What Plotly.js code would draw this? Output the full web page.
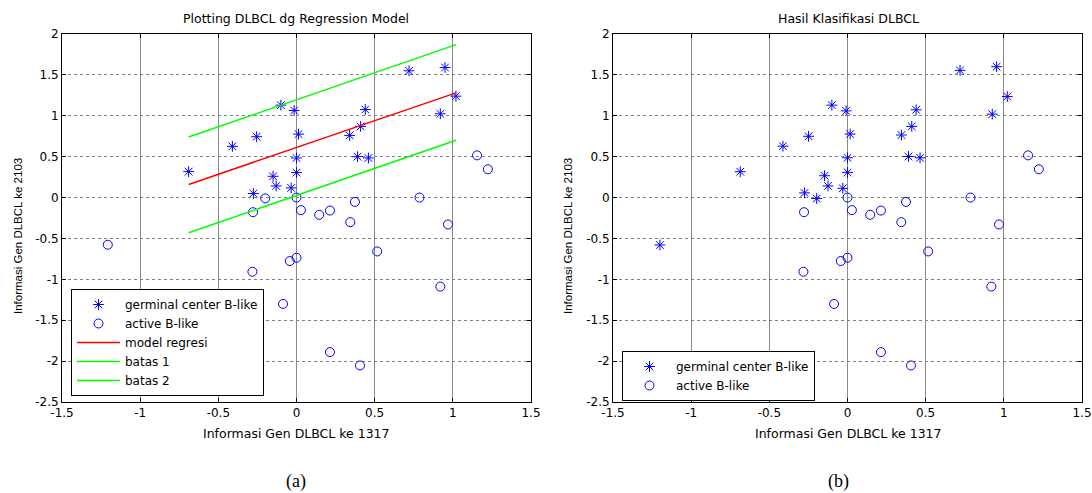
<!DOCTYPE html>
<html>
<head>
<meta charset="utf-8">
<script src="https://cdn.plot.ly/plotly-3.0.1.min.js"></script>
<style>html,body{margin:0;padding:0;background:#fff;}#chart{width:1092px;height:493px;}</style>
</head>
<body>
<div id="chart"></div>
<script>
// ---- Panel (a): actual labels ----
const gcbX_a = [0.72, 0.95, 1.02, -0.10, -0.015, 0.44, 0.92, 0.41, 0.34, 0.013, -0.255, -0.41, -0.69, 0.0, 0.39, 0.46, 0.0, -0.15, -0.13, -0.034, -0.276];
const gcbY_a = [1.55, 1.59, 1.24, 1.13, 1.065, 1.077, 1.024, 0.87, 0.76, 0.776, 0.744, 0.626, 0.317, 0.484, 0.50, 0.484, 0.305, 0.26, 0.142, 0.118, 0.049];
const abcX_a = [-0.20, -0.278, 0.0, 0.028, 0.145, 0.214, 0.374, 0.344, 0.787, 0.969, 1.155, 1.224, -1.207, 0.516, 0.0, -0.043, -0.282, 0.92, -0.086, 0.214, 0.406];
const abcY_a = [-0.01, -0.179, 0.0, -0.154, -0.211, -0.159, -0.053, -0.301, 0.0, -0.329, 0.516, 0.346, -0.577, -0.659, -0.736, -0.776, -0.907, -1.089, -1.301, -1.89, -2.053];

// regression model and bounds (endpoints)
const lineX = [-0.69, 1.02];
const regY = [0.16, 1.28];
const batas1Y = [0.74, 1.87];
const batas2Y = [-0.43, 0.70];

// ---- Panel (b): classification result ----
const gcbX_b = [0.72, 0.954, 1.022, -0.10, -0.009, 0.439, 0.926, 0.411, 0.345, 0.017, -0.249, -0.413, -0.686, 0.0, 0.39, 0.464, 0.0, -0.147, -0.125, -0.03, -0.275, -0.197, -1.2];
const gcbY_b = [1.555, 1.60, 1.235, 1.13, 1.06, 1.073, 1.02, 0.87, 0.765, 0.777, 0.749, 0.628, 0.316, 0.486, 0.502, 0.486, 0.308, 0.267, 0.142, 0.113, 0.057, -0.012, -0.58];
const abcX_b = [0.0, -0.278, 0.028, 0.145, 0.214, 0.374, 0.344, 0.787, 0.969, 1.155, 1.224, 0.516, 0.0, -0.043, -0.282, 0.92, -0.086, 0.214, 0.406];
const abcY_b = [0.0, -0.179, -0.154, -0.211, -0.159, -0.053, -0.301, 0.0, -0.329, 0.516, 0.346, -0.659, -0.736, -0.776, -0.907, -1.089, -1.301, -1.89, -2.053];

const xTicks = [-1.5, -1, -0.5, 0, 0.5, 1, 1.5];
const yTicks = [-2.5, -2, -1.5, -1, -0.5, 0, 0.5, 1, 1.5, 2];

const titleA = 'Plotting DLBCL dg Regression Model';
const titleB = 'Hasil Klasifikasi DLBCL';
const xLabel = 'Informasi Gen DLBCL ke 1317';
const yLabel = 'Informasi Gen DLBCL ke 2103';

const W = 1092, H = 493;
const px = v => v / W;
const py = v => 1 - v / H;

const blue = '#0000ff';
const starM = {symbol: 'asterisk-open', size: 9, color: blue, line: {color: blue, width: 1}};
const circM = {symbol: 'circle-open', size: 9, color: blue, line: {color: blue, width: 1}};

const traces = [
  {x: gcbX_a, y: gcbY_a, type: 'scatter', mode: 'markers', name: 'germinal center B-like', marker: starM, xaxis: 'x', yaxis: 'y', legend: 'legend'},
  {x: abcX_a, y: abcY_a, type: 'scatter', mode: 'markers', name: 'active B-like', marker: circM, xaxis: 'x', yaxis: 'y', legend: 'legend'},
  {x: lineX, y: regY, type: 'scatter', mode: 'lines', name: 'model regresi', line: {color: '#ff0000', width: 1.5}, xaxis: 'x', yaxis: 'y', legend: 'legend'},
  {x: lineX, y: batas1Y, type: 'scatter', mode: 'lines', name: 'batas 1', line: {color: '#00ff00', width: 1.5}, xaxis: 'x', yaxis: 'y', legend: 'legend'},
  {x: lineX, y: batas2Y, type: 'scatter', mode: 'lines', name: 'batas 2', line: {color: '#00ff00', width: 1.5}, xaxis: 'x', yaxis: 'y', legend: 'legend'},
  {x: gcbX_b, y: gcbY_b, type: 'scatter', mode: 'markers', name: 'germinal center B-like', marker: starM, xaxis: 'x2', yaxis: 'y2', legend: 'legend2'},
  {x: abcX_b, y: abcY_b, type: 'scatter', mode: 'markers', name: 'active B-like', marker: circM, xaxis: 'x2', yaxis: 'y2', legend: 'legend2'}
];

const tickFont = {family: 'DejaVu Sans, Verdana, sans-serif', size: 12, color: '#000'};
function xAx(dom, anchor) {
  return {domain: dom, anchor: anchor, range: [-1.5, 1.5], tickvals: xTicks, ticktext: xTicks.map(String),
    ticks: 'inside', ticklen: 4, tickcolor: '#000', showline: true, linecolor: '#000', linewidth: 1, mirror: 'ticks',
    showgrid: true, gridcolor: '#8a8a8a', gridwidth: 1, zeroline: false, tickfont: tickFont, fixedrange: true};
}
function yAx(dom, anchor) {
  return {domain: dom, anchor: anchor, range: [-2.5, 2], tickvals: yTicks, ticktext: yTicks.map(String),
    ticks: 'inside', ticklen: 4, tickcolor: '#000', showline: true, linecolor: '#000', linewidth: 1, mirror: 'ticks',
    showgrid: true, gridcolor: '#808080', gridwidth: 1, griddash: 'dot', zeroline: false, tickfont: tickFont, fixedrange: true};
}

const yDom = [py(402), py(34)];
const legFont = {family: 'DejaVu Sans, Verdana, sans-serif', size: 12, color: '#000'};
const xLabFont = {family: 'DejaVu Sans, Verdana, sans-serif', size: 12.5, color: '#000'};
const yLabFont = {family: 'Liberation Sans, Arial, sans-serif', size: 11.5, color: '#000'};
const titFont = {family: 'DejaVu Sans, Verdana, sans-serif', size: 12.5, color: '#000'};
const capFont = {family: 'Liberation Serif, Times New Roman, serif', size: 18, color: '#000'};

const legBase = {xanchor: 'left', yanchor: 'top', bgcolor: '#fff', bordercolor: '#000', borderwidth: 1, font: legFont, tracegroupgap: 0, itemwidth: 43};

const layout = {
  width: W, height: H,
  margin: {l: 0, r: 0, t: 0, b: 0},
  paper_bgcolor: '#fff', plot_bgcolor: '#fff',
  showlegend: true,
  xaxis: xAx([px(62), px(531)], 'y'),
  yaxis: yAx(yDom, 'x'),
  xaxis2: xAx([px(613), px(1082)], 'y2'),
  yaxis2: yAx(yDom, 'x2'),
  legend: Object.assign({x: px(71), y: py(289)}, legBase),
  legend2: Object.assign({x: px(622), y: py(351)}, legBase),
  annotations: [
    {text: titleA, x: px(296), y: py(19), xref: 'paper', yref: 'paper', showarrow: false, font: titFont, xanchor: 'center', yanchor: 'middle'},
    {text: titleB, x: px(848), y: py(19), xref: 'paper', yref: 'paper', showarrow: false, font: titFont, xanchor: 'center', yanchor: 'middle'},
    {text: xLabel, x: px(296), y: py(433), xref: 'paper', yref: 'paper', showarrow: false, font: xLabFont, xanchor: 'center', yanchor: 'middle'},
    {text: xLabel, x: px(848), y: py(433), xref: 'paper', yref: 'paper', showarrow: false, font: xLabFont, xanchor: 'center', yanchor: 'middle'},
    {text: yLabel, x: px(18), y: py(236), xref: 'paper', yref: 'paper', showarrow: false, font: yLabFont, textangle: -90, xanchor: 'center', yanchor: 'middle'},
    {text: yLabel, x: px(568), y: py(236), xref: 'paper', yref: 'paper', showarrow: false, font: yLabFont, textangle: -90, xanchor: 'center', yanchor: 'middle'},
    {text: '(a)', x: px(296), y: py(481), xref: 'paper', yref: 'paper', showarrow: false, font: capFont, xanchor: 'center', yanchor: 'middle'},
    {text: '(b)', x: px(838), y: py(481), xref: 'paper', yref: 'paper', showarrow: false, font: capFont, xanchor: 'center', yanchor: 'middle'}
  ]
};

Plotly.newPlot('chart', traces, layout, {displayModeBar: false, staticPlot: true});
</script>
</body>
</html>
